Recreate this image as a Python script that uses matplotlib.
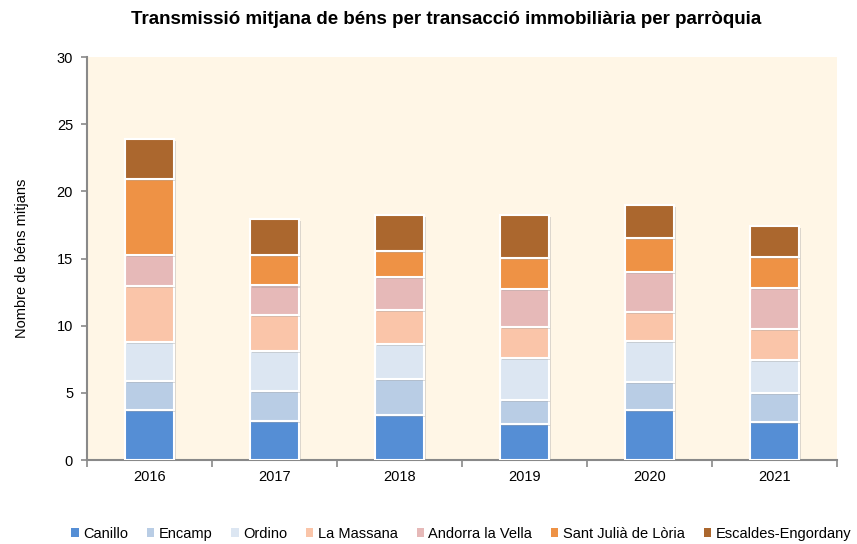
import numpy as np
import matplotlib.pyplot as plt
import matplotlib.patheffects as pe

plt.rcParams['font.family'] = ['Liberation Sans', 'DejaVu Sans']

# --- Data ---
years = ['2016', '2017', '2018', '2019', '2020', '2021']
parroquies = ['Canillo', 'Encamp', 'Ordino', 'La Massana', 'Andorra la Vella',
              'Sant Julià de Lòria', 'Escaldes-Engordany']
canillo = [3.72, 2.93, 3.33, 2.68, 3.72, 2.83]
encamp = [2.16, 2.21, 2.70, 1.79, 2.06, 2.18]
ordino = [2.88, 2.98, 2.58, 3.13, 3.10, 2.46]
la_massana = [4.20, 2.68, 2.56, 2.30, 2.14, 2.31]
andorra = [2.30, 2.20, 2.48, 2.83, 2.98, 3.05]
sant_julia = [5.69, 2.29, 1.91, 2.31, 2.55, 2.31]
escaldes = [2.93, 2.65, 2.66, 3.18, 2.46, 2.31]

series = [canillo, encamp, ordino, la_massana, andorra, sant_julia, escaldes]
colors = ['#558ED5', '#B9CDE5', '#DCE6F2', '#FAC5A9', '#E6B9B8', '#EE9245', '#AB672E']

# --- Plot ---
fig = plt.figure(figsize=(8.57, 5.44), dpi=100)
ax = fig.add_axes([0.1015, 0.1544, 0.875, 0.7406])
ax.set_facecolor('#FFF6E6')

x = np.arange(len(years))
bottom = np.zeros(len(years))
shadow = [pe.SimplePatchShadow(offset=(1.5, -1.5), shadow_rgbFace='#999999', alpha=0.35), pe.Normal()]
for name, vals, c in zip(parroquies, series, colors):
    bars = ax.bar(x, vals, 0.39, bottom=bottom, color=c, edgecolor='white',
                  linewidth=1.5, label=name, zorder=3)
    for b in bars:
        b.set_path_effects(shadow)
    bottom += np.array(vals)

ax.set_xlim(-0.5, 5.5)
ax.set_ylim(0, 30)
ax.set_yticks(range(0, 31, 5))
ax.set_xticks(x)
ax.set_xticklabels(years, fontsize=10.5)
ax.set_xticks(np.arange(-0.5, 6, 1), minor=True)
ax.tick_params(axis='x', which='major', length=0, pad=7)
ax.tick_params(axis='x', which='minor', length=5, color='#898989', width=1.2)
ax.tick_params(axis='y', length=4, color='#898989', width=1.2, labelsize=10.5, pad=6)

for s in ['top', 'right']:
    ax.spines[s].set_visible(False)
for s in ['left', 'bottom']:
    ax.spines[s].set_color('#898989')
    ax.spines[s].set_linewidth(1.5)

ax.set_ylabel('Nombre de béns mitjans', fontsize=10.5, labelpad=20)
fig.suptitle('Transmissió mitjana de béns per transacció immobiliària per parròquia',
             fontsize=13.5, fontweight='bold', x=0.52, y=0.98)

leg = ax.legend(loc='center', bbox_to_anchor=(0.499, -0.183), ncol=7, frameon=False,
                fontsize=10.5, handlelength=0.5, handleheight=0.5, handletextpad=0.3,
                columnspacing=1.3)
for h in leg.legend_handles:
    h.set_path_effects([])
    h.set_linewidth(0)

fig.savefig('out.png', dpi=100)
